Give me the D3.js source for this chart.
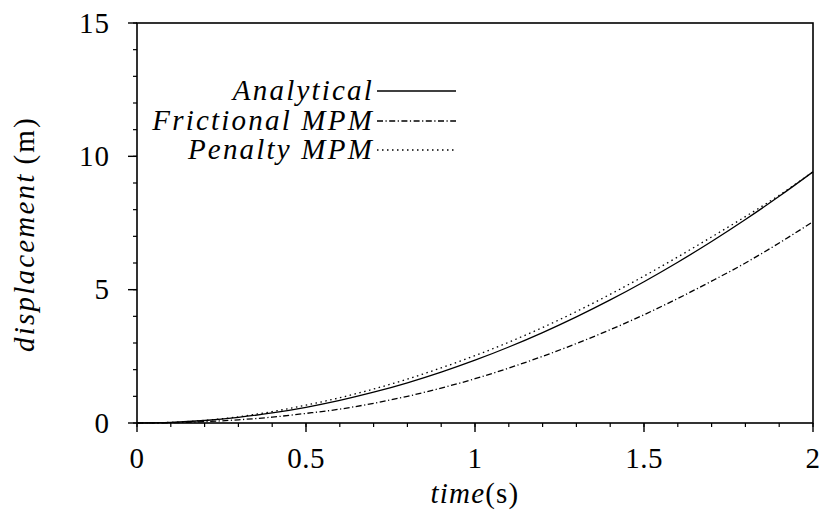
<!DOCTYPE html>
<html><head><meta charset="utf-8">
<script src="https://cdn.jsdelivr.net/npm/d3@7"></script>
<style>body{margin:0;background:#fff}svg{display:block}text{font-family:"Liberation Serif","Times New Roman",serif;fill:#000}</style>
</head><body><svg id="c" width="827" height="520"></svg>
<script>
const time = [0,0.1,0.2,0.3,0.4,0.5,0.6,0.7,0.8,0.9,1.0,1.1,1.2,1.3,1.4,1.5,1.6,1.7,1.8,1.9,2.0];
const analytical = [0,0.024,0.094,0.212,0.377,0.589,0.848,1.154,1.507,1.908,2.355,2.850,3.391,3.980,4.616,5.299,6.029,6.806,7.630,8.502,9.42];
const frictional = [0,0.012,0.05,0.12,0.22,0.36,0.52,0.74,1.0,1.31,1.66,2.06,2.5,2.98,3.5,4.06,4.67,5.32,6.0,6.75,7.55];
const penalty = [0,0.024,0.099,0.232,0.427,0.669,0.948,1.274,1.647,2.068,2.525,3.03,3.581,4.18,4.826,5.509,6.229,6.976,7.74,8.542,9.42];
const xTicks = [0,0.5,1,1.5,2];
const xTickLabels = ["0","0.5","1","1.5","2"];
const yTicks = [0,5,10,15];
const yTickLabels = ["0","5","10","15"];
const seriesNames = ["Analytical","Frictional MPM","Penalty MPM"];

const svg = d3.select("#c");
const L=137,R=813,T=23,B=423;
const x = d3.scaleLinear().domain([0,2]).range([L,R]);
const y = d3.scaleLinear().domain([0,15]).range([B,T]);

// minor ticks
const xMinor = d3.range(0,2.0001,0.1);
const yMinor = d3.range(0,15.0001,1);
svg.append("g").selectAll("line").data(xMinor).join("line")
  .attr("x1",d=>x(d)).attr("x2",d=>x(d)).attr("y1",B).attr("y2",B+4)
  .attr("stroke","#000").attr("stroke-width",1.2);
svg.append("g").selectAll("line").data(yMinor).join("line")
  .attr("y1",d=>y(d)).attr("y2",d=>y(d)).attr("x1",L-4).attr("x2",L)
  .attr("stroke","#000").attr("stroke-width",1.2);
// major ticks
svg.append("g").selectAll("line").data(xTicks).join("line")
  .attr("x1",d=>x(d)).attr("x2",d=>x(d)).attr("y1",B).attr("y2",B+9)
  .attr("stroke","#000").attr("stroke-width",1.4);
svg.append("g").selectAll("line").data(yTicks).join("line")
  .attr("y1",d=>y(d)).attr("y2",d=>y(d)).attr("x1",L-9).attr("x2",L)
  .attr("stroke","#000").attr("stroke-width",1.4);

// tick labels
svg.append("g").selectAll("text").data(xTicks).join("text")
  .attr("x",d=>x(d)).attr("y",468).attr("text-anchor","middle")
  .style("font-size","29px").style("letter-spacing","0.5px").text((d,i)=>xTickLabels[i]);
svg.append("g").selectAll("text").data(yTicks).join("text")
  .attr("x",110).attr("y",d=>y(d)).attr("dy","0.33em").attr("text-anchor","end")
  .style("font-size","29px").style("letter-spacing","1px").text((d,i)=>yTickLabels[i]);

// frame
svg.append("rect").attr("x",L).attr("y",T).attr("width",R-L).attr("height",B-T)
  .attr("fill","none").attr("stroke","#000").attr("stroke-width",1.6);

// lines
const dashes = [null,"6,2.5,1.2,2.5","1.5,3.5"];
const data = [analytical,frictional,penalty];
const line = d3.line().x((d,i)=>x(time[i])).y(d=>y(d)).curve(d3.curveMonotoneX);
data.forEach((s,k)=>{
  svg.append("path").datum(s).attr("d",line).attr("fill","none")
    .attr("stroke","#000").attr("stroke-width",1.3)
    .attr("stroke-dasharray",dashes[k]);
});

// legend
const legY = [91,121,150];
seriesNames.forEach((n,k)=>{
  svg.append("text").attr("x",374).attr("y",legY[k]).attr("dy","0.3em")
    .attr("text-anchor","end").style("font-size","29px").style("font-style","italic")
    .style("letter-spacing","2.2px").text(n);
  svg.append("line").attr("x1",377).attr("x2",456).attr("y1",legY[k]).attr("y2",legY[k])
    .attr("stroke","#000").attr("stroke-width",1.3).attr("stroke-dasharray",dashes[k]);
});

// axis labels
const xl = svg.append("text").attr("x",475).attr("y",503).attr("text-anchor","middle")
  .style("font-size","29px").style("letter-spacing","1.2px");
xl.append("tspan").style("font-style","italic").text("time");
xl.append("tspan").text("(s)");
const yl = svg.append("text").attr("transform","translate(34,234) rotate(-90)").attr("text-anchor","middle")
  .style("font-size","29px").style("letter-spacing","2.2px");
yl.append("tspan").style("font-style","italic").text("displacement");
yl.append("tspan").text("\u2009(m)");
</script></body></html>
